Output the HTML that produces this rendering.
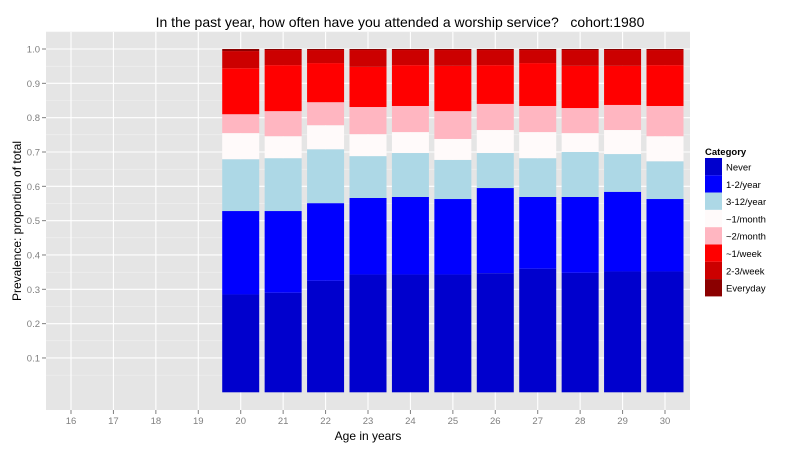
<!DOCTYPE html>
<html><head><meta charset="utf-8"><style>
body{margin:0;background:#fff;}
svg{display:block;font-family:"Liberation Sans",Arial,sans-serif;}
</style></head><body>
<svg id="chart" width="800" height="450"></svg>
<script>
const ages = [16,17,18,19,20,21,22,23,24,25,26,27,28,29,30];
const categories = ["Never","1-2/year","3-12/year","~1/month","~2/month","~1/week","2-3/week","Everyday"];
const colors = ["#0000CD","#0000FF","#ADD8E6","#FFFAFA","#FFB6C1","#FF0000","#CC0000","#8B0000"];
const barAges = [20,21,22,23,24,25,26,27,28,29,30];
const never    = [.285,.29,.325,.343,.343,.343,.347,.36,.348,.352,.352];
const yr12     = [.243,.238,.226,.223,.226,.220,.248,.209,.221,.232,.211];
const yr312    = [.151,.154,.157,.122,.128,.114,.102,.113,.131,.110,.110];
const month1   = [.076,.064,.070,.064,.061,.061,.067,.076,.055,.070,.073];
const month2   = [.055,.073,.067,.079,.076,.081,.076,.076,.073,.073,.088];
const week1    = [.134,.134,.114,.117,.119,.132,.113,.125,.123,.114,.119];
const week23   = [.050,.044,.038,.049,.044,.046,.044,.038,.046,.046,.044];
const everyday = [.006,.003,.003,.003,.003,.003,.003,.003,.003,.003,.003];
const series = [never,yr12,yr312,month1,month2,week1,week23,everyday];
const yTicks = [0.1,0.2,0.3,0.4,0.5,0.6,0.7,0.8,0.9,1.0];

const NS="http://www.w3.org/2000/svg";
const svg=document.getElementById('chart');
const P={l:46,r:690,t:32,b:410};
const x=a=>71+(a-16)*(594/14);
const y=v=>392.3-v*343.3;
const bw=37;
function mk(tag,attrs,parent){const e=document.createElementNS(NS,tag);for(const k in attrs)e.setAttribute(k,attrs[k]);(parent||svg).appendChild(e);return e;}

const title=mk('text',{x:400,y:27,'text-anchor':'middle','font-size':14,fill:'#000'});


title.textContent='In the past year, how often have you attended a worship service?\u00a0\u00a0\u00a0cohort:1980';

const panel=mk('rect',{x:P.l,y:P.t,width:P.r-P.l,height:P.b-P.t,fill:'#E5E5E5'});


for(let i=0;i<yTicks.length;i++){
  const mv=yTicks[i]-0.05;
  mk('line',{x1:P.l,x2:P.r,y1:y(mv),y2:y(mv),stroke:'#F2F2F2','stroke-width':0.6});
}
mk('line',{x1:P.l,x2:P.r,y1:y(1.05),y2:y(1.05),stroke:'#F2F2F2','stroke-width':0.6});
for(const v of yTicks){
  const g=mk('line',{x1:P.l,x2:P.r,y1:y(v),y2:y(v),stroke:'#fff','stroke-width':1.1});
  
  
  const t=mk('text',{x:40,y:y(v)+3.5,'text-anchor':'end','font-size':9.5,fill:'#7F7F7F'});
  
  
  t.textContent=v.toFixed(1);
  mk('line',{x1:42,x2:P.l,y1:y(v),y2:y(v),stroke:'#7F7F7F','stroke-width':1});
}
for(const a of ages){
  const g=mk('line',{x1:x(a),x2:x(a),y1:P.t,y2:P.b,stroke:'#fff','stroke-width':1.1});
  
  
  mk('line',{x1:x(a),x2:x(a),y1:P.b,y2:P.b+4,stroke:'#7F7F7F','stroke-width':1});
  const t=mk('text',{x:x(a),y:P.b+14,'text-anchor':'middle','font-size':9.5,fill:'#7F7F7F'});
  
  
  t.textContent=a;
}
for(let i=0;i<barAges.length;i++){
  let cum=0;
  for(let s=0;s<series.length;s++){
    const v=series[s][i];
    const r=mk('rect',{x:x(barAges[i])-bw/2,y:y(cum+v),width:bw,height:y(cum)-y(cum+v),fill:colors[s]});
    
    
    cum+=v;
  }
}
const xt=mk('text',{x:368,y:440,'text-anchor':'middle','font-size':12,fill:'#000'});


xt.textContent='Age in years';
const yt=mk('text',{x:0,y:0,'text-anchor':'middle','font-size':12,fill:'#000',transform:'translate(21,221) rotate(-90)'});


yt.textContent='Prevalence: proportion of total';
const lt=mk('text',{x:705,y:155,'font-size':9.5,'font-weight':'bold',fill:'#000'});


lt.textContent='Category';
for(let i=0;i<categories.length;i++){
  const ky=158+i*17.3;
  const k=mk('rect',{x:705,y:ky,width:17,height:17.3,fill:colors[i]});
  
  
  const t=mk('text',{x:726,y:ky+12.5,'font-size':9.5,fill:'#000'});
  
  
  t.textContent=categories[i];
}
</script>
</body></html>
